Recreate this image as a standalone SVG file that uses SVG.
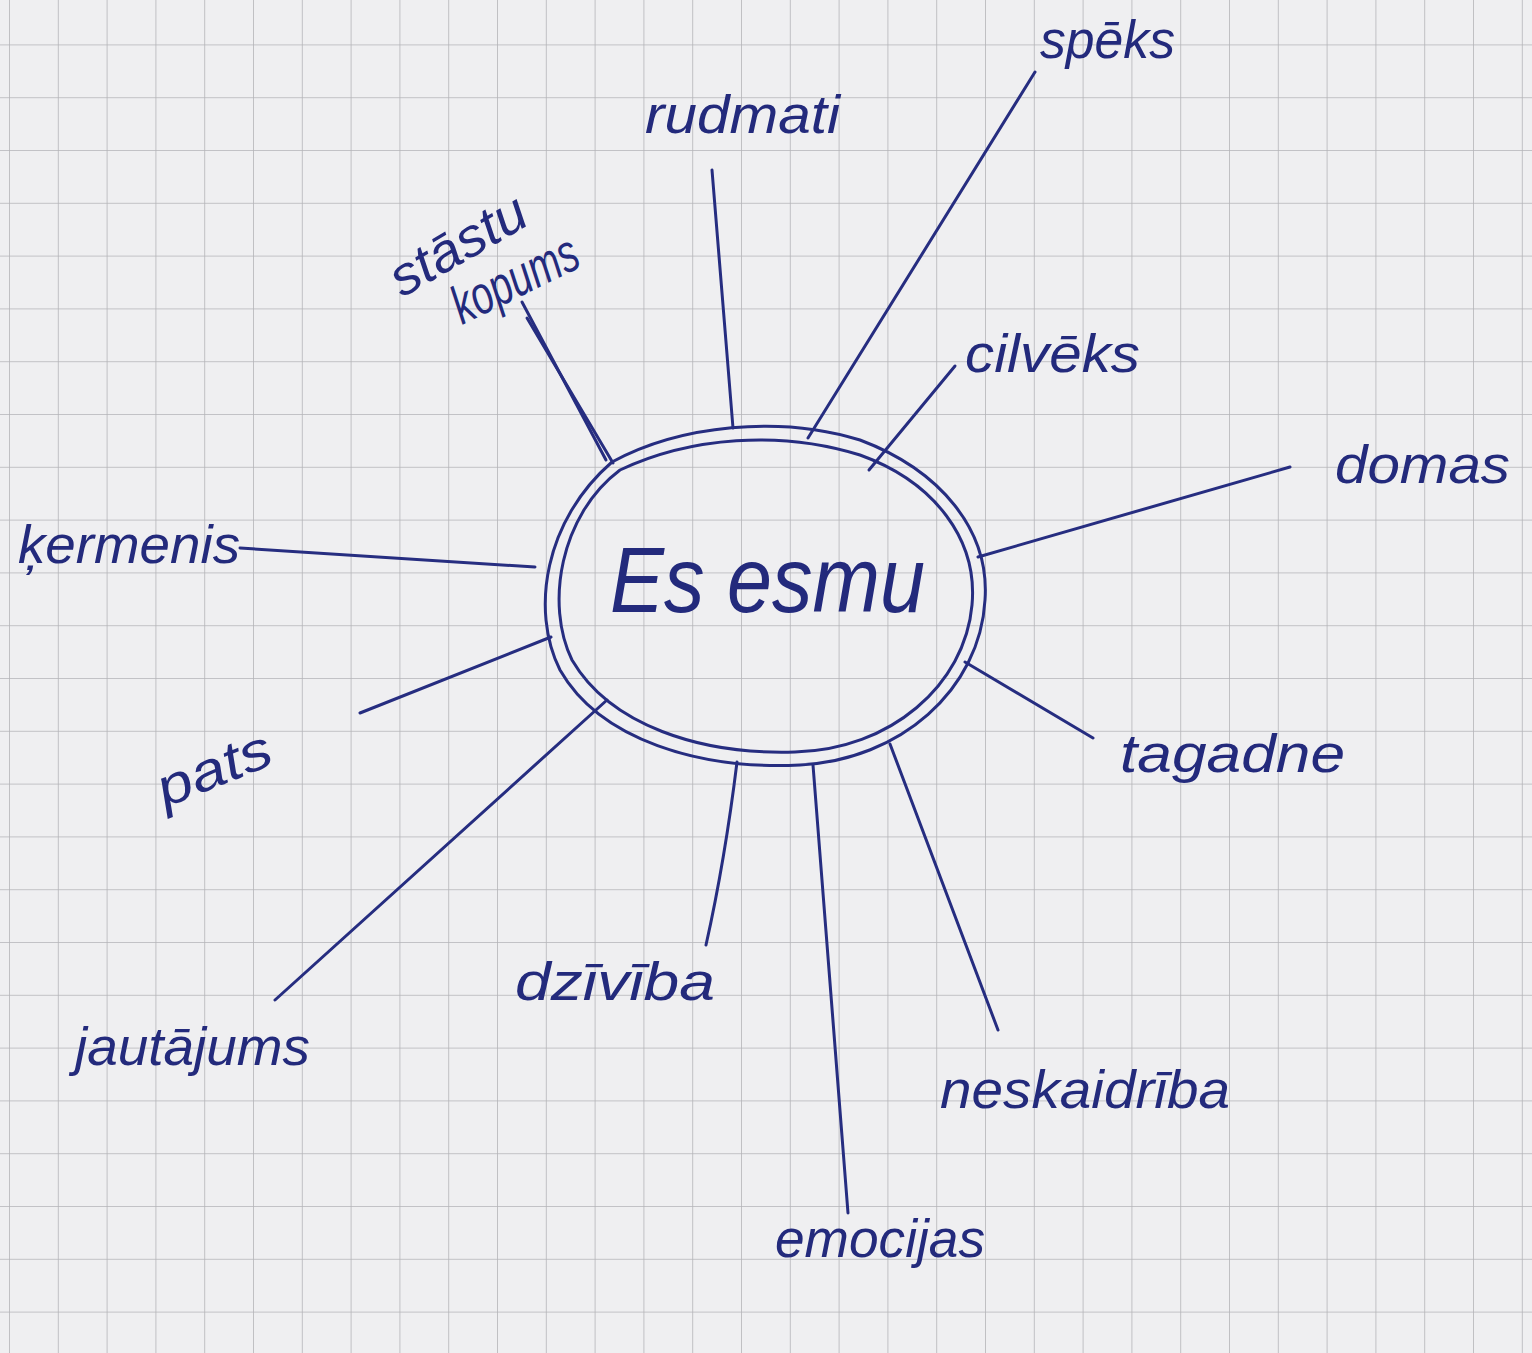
<svg xmlns="http://www.w3.org/2000/svg" width="1532" height="1353" viewBox="0 0 1532 1353">
<defs>
<pattern id="grid" patternUnits="userSpaceOnUse" x="9" y="150" width="48.8" height="52.8">
<path d="M0 0 H48.8 M0 0 V52.8" fill="none" stroke="#b4b4b8" stroke-width="1.6"/>
</pattern>
<style>
.lbl{font-family:"Liberation Sans","DejaVu Sans",sans-serif;font-style:italic;font-size:54px;fill:#232a7c}
.big{font-size:92px}
.ln{fill:none;stroke:#262d80;stroke-width:3;stroke-linecap:round;stroke-linejoin:round}
</style>
</defs>
<rect width="1532" height="1353" fill="#efeff1"/>
<rect width="1532" height="1353" fill="url(#grid)"/>

<g id="connectors">
<path class="ln" d="M613 463 L527 318"/>
<path class="ln" d="M606 460 L522 302"/>
<path class="ln" d="M712 170 L733 428"/>
<path class="ln" d="M808 438 L1035 72"/>
<path class="ln" d="M869 470 L955 366"/>
<path class="ln" d="M978 557 L1290 467"/>
<path class="ln" d="M965 662 L1093 738"/>
<path class="ln" d="M890 744 L998 1030"/>
<path class="ln" d="M813 765 L848 1213"/>
<path class="ln" d="M737 762 Q725 860 706 945"/>
<path class="ln" d="M607 700 L275 1000"/>
<path class="ln" d="M551 637 L360 713"/>
<path class="ln" d="M240 548 L535 567"/>
</g>

<g id="node-center">
<path class="ln" d="M612 462 C680 425 780 415 860 440 C940 470 990 530 985 600 C980 690 900 760 800 765 C700 770 600 740 560 670 C530 610 545 520 612 462 Z"/>
<path class="ln" d="M620 470 C690 437 780 430 860 455 C935 482 978 540 972 605 C965 685 890 750 795 752 C700 755 610 725 572 660 C545 605 560 515 620 470 Z"/>
<text class="lbl big" x="610" y="612" textLength="315" lengthAdjust="spacingAndGlyphs">Es esmu</text>
</g>

<g id="node-stastu">
<text class="lbl" transform="translate(402 298) rotate(-30)" textLength="150" lengthAdjust="spacingAndGlyphs">stāstu</text>
<text class="lbl" transform="translate(462 325) rotate(-26)" textLength="135" lengthAdjust="spacingAndGlyphs">kopums</text>
</g>
<g id="node-rudmati"><text class="lbl" x="645" y="133" textLength="195" lengthAdjust="spacingAndGlyphs">rudmati</text></g>
<g id="node-speks"><text class="lbl" x="1040" y="58" textLength="135" lengthAdjust="spacingAndGlyphs">spēks</text></g>
<g id="node-cilveks"><text class="lbl" x="965" y="372" textLength="175" lengthAdjust="spacingAndGlyphs">cilvēks</text></g>
<g id="node-domas"><text class="lbl" x="1335" y="483" textLength="175" lengthAdjust="spacingAndGlyphs">domas</text></g>
<g id="node-tagadne"><text class="lbl" x="1120" y="772" textLength="225" lengthAdjust="spacingAndGlyphs">tagadne</text></g>
<g id="node-neskaidriba"><text class="lbl" x="940" y="1108" textLength="290" lengthAdjust="spacingAndGlyphs">neskaidrība</text></g>
<g id="node-emocijas"><text class="lbl" x="775" y="1257" textLength="210" lengthAdjust="spacingAndGlyphs">emocijas</text></g>
<g id="node-dziviba"><text class="lbl" x="515" y="1000" textLength="200" lengthAdjust="spacingAndGlyphs">dzīvība</text></g>
<g id="node-jautajums"><text class="lbl" x="75" y="1065" textLength="235" lengthAdjust="spacingAndGlyphs">jautājums</text></g>
<g id="node-pats"><text class="lbl" transform="translate(165 808) rotate(-22)" textLength="120" lengthAdjust="spacingAndGlyphs">pats</text></g>
<g id="node-kermenis"><text class="lbl" x="18" y="563" textLength="222" lengthAdjust="spacingAndGlyphs">ķermenis</text></g>
</svg>
